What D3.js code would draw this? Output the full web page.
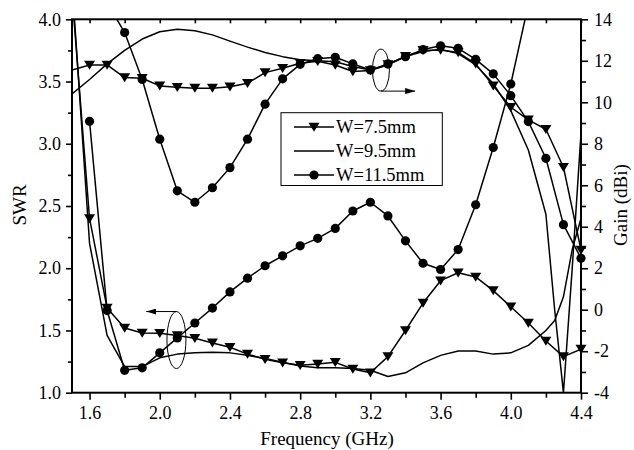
<!DOCTYPE html>
<html>
<head>
<meta charset="utf-8">
<script src="https://cdn.jsdelivr.net/npm/d3@7"></script>
<style>
  html, body { margin: 0; padding: 0; background: #fff; }
  svg { display: block; }
  text { font-family: "Liberation Serif", "Times New Roman", serif; fill: #000; }
</style>
</head>
<body>
<svg id="chart" width="634" height="450"></svg>
<script>
// Frequency grid (GHz) for the marked curves
const freq = [1.5, 1.6, 1.7, 1.8, 1.9, 2.0, 2.1, 2.2, 2.3, 2.4, 2.5, 2.6, 2.7, 2.8, 2.9,
              3.0, 3.1, 3.2, 3.3, 3.4, 3.5, 3.6, 3.7, 3.8, 3.9, 4.0, 4.1, 4.2, 4.3, 4.4];
// Frequency grid for the unmarked W=9.5mm curves
const plainFreq = [1.5, 1.6, 1.7, 1.8, 1.9, 2.0, 2.1, 2.2, 2.3, 2.4, 2.5, 2.6, 2.7, 2.8, 2.9,
                   3.0, 3.1, 3.2, 3.3, 3.4, 3.5, 3.6, 3.7, 3.8, 3.9, 4.0, 4.1, 4.2, 4.25, 4.3, 4.35, 4.4];

// SWR (left axis)
const swrW75 = [4.2, 2.40, 1.68, 1.52, 1.48, 1.477, 1.46, 1.437, 1.40, 1.365, 1.31, 1.268, 1.24, 1.22, 1.23,
                1.244, 1.19, 1.16, 1.29, 1.50, 1.72, 1.90, 1.964, 1.93, 1.82, 1.69, 1.56, 1.415, 1.29, 1.35];
const swrW95 = [4.3, 2.2, 1.46, 1.21, 1.21, 1.28, 1.31, 1.32, 1.325, 1.32, 1.30, 1.275, 1.245, 1.215, 1.20,
                1.20, 1.195, 1.18, 1.13, 1.16, 1.24, 1.30, 1.335, 1.335, 1.31, 1.32, 1.38, 1.50, 1.58, 1.77, 2.15, 2.4];
const swrW115 = [null, 3.18, 1.66, 1.18, 1.20, 1.32, 1.44, 1.56, 1.68, 1.81, 1.92, 2.02, 2.10, 2.18, 2.24,
                 2.32, 2.46, 2.53, 2.42, 2.22, 2.04, 1.99, 2.15, 2.51, 2.97, 3.48, 4.12, null, null, null];

// Gain in dBi (right axis)
const gainW75 = [11.56, 11.8, 11.8, 11.19, 11.16, 10.79, 10.72, 10.68, 10.68, 10.75, 10.92, 11.43, 11.64, 11.88, 11.98,
                 11.8, 11.48, 11.53, 11.82, 12.22, 12.5, 12.52, 12.4, 11.85, 10.79, 9.76, 9.15, 8.7, 6.87, 2.88];
const gainW95 = [10.4, 11.1, 11.85, 12.5, 13.05, 13.4, 13.52, 13.45, 13.25, 12.95, 12.66, 12.4, 12.2, 12.05, 12.0,
                 11.95, 11.72, 11.56, 11.8, 12.2, 12.45, 12.55, 12.35, 11.8, 10.9, 9.6, 7.7, 4.6, 0.0, -4.0, 2.0, 8.5];
const gainW115 = [null, null, 14.8, 13.36, 11.1, 8.22, 5.73, 5.18, 5.88, 6.85, 8.22, 9.91, 11.13, 11.83, 12.1,
                  12.17, 11.85, 11.56, 11.85, 12.2, 12.54, 12.72, 12.6, 12.07, 11.37, 10.32, 9.07, 7.3, 4.1, 2.48];

// Axis ticks
const freqTicks = [1.6, 2.0, 2.4, 2.8, 3.2, 3.6, 4.0, 4.4];
const freqMinor = [1.8, 2.2, 2.6, 3.0, 3.4, 3.8, 4.2];
const swrTicks = [1.0, 1.5, 2.0, 2.5, 3.0, 3.5, 4.0];
const swrMinor = [1.25, 1.75, 2.25, 2.75, 3.25, 3.75];
const gainTicks = [-4, -2, 0, 2, 4, 6, 8, 10, 12, 14];
const gainMinor = [-3, -1, 1, 3, 5, 7, 9, 11, 13];

const legendLabels = ["W=7.5mm", "W=9.5mm", "W=11.5mm"];
const xTitle = "Frequency (GHz)";
const yLeftTitle = "SWR";
const yRightTitle = "Gain (dBi)";

const svg = d3.select("#chart");
const P = { left: 72, right: 581, top: 19.3, bottom: 392.7 };

const x = d3.scaleLinear().domain([1.5, 4.4]).range([P.left, P.right]);
const ySwr = d3.scaleLinear().domain([1, 4]).range([P.bottom, P.top]);
const yGain = d3.scaleLinear().domain([-4, 14]).range([P.bottom, P.top]);

svg.append("defs").append("clipPath").attr("id", "plotClip")
  .append("rect")
  .attr("x", P.left).attr("y", P.top)
  .attr("width", P.right - P.left).attr("height", P.bottom - P.top);

// Marker shapes
const triPath = "M-5.5,-4.3L5.5,-4.3L0,4.7Z";
function drawMarker(g, kind, cx, cy) {
  if (kind === "tri") {
    g.append("path").attr("d", triPath).attr("transform", `translate(${cx},${cy})`).attr("fill", "#000");
  } else if (kind === "circle") {
    g.append("circle").attr("cx", cx).attr("cy", cy).attr("r", 4.6).attr("fill", "#000");
  }
}

const series = [
  { f: freq, v: swrW75, y: ySwr, marker: "tri" },
  { f: plainFreq, v: swrW95, y: ySwr, marker: null },
  { f: freq, v: swrW115, y: ySwr, marker: "circle" },
  { f: freq, v: gainW75, y: yGain, marker: "tri" },
  { f: plainFreq, v: gainW95, y: yGain, marker: null },
  { f: freq, v: gainW115, y: yGain, marker: "circle" }
];

const linesG = svg.append("g").attr("clip-path", "url(#plotClip)");
const marksG = svg.append("g");

series.forEach(s => {
  const pts = s.f.map((f, i) => ({ f, v: s.v[i] }));
  const line = d3.line()
    .defined(d => d.v !== null)
    .x(d => x(d.f))
    .y(d => s.y(d.v));
  linesG.append("path")
    .datum(pts)
    .attr("d", line)
    .attr("fill", "none")
    .attr("stroke", "#000")
    .attr("stroke-width", 1.5)
    .attr("stroke-linejoin", "round");
  if (s.marker) {
    const [lo, hi] = s.y.domain();
    pts.filter(d => d.v !== null && d.f >= 1.55 && d.v >= lo && d.v <= hi)
      .forEach(d => drawMarker(marksG, s.marker, x(d.f), s.y(d.v)));
  }
});

// Axes
const tickFont = 18;
function styleAxis(g) {
  g.selectAll(".tick line").attr("stroke", "#000").attr("stroke-width", 1.6);
  g.selectAll(".tick text")
    .style("font-family", '"Liberation Serif", "Times New Roman", serif')
    .style("font-size", tickFont + "px").attr("fill", "#000");
  g.select(".domain").remove();
}

svg.append("g").attr("transform", `translate(0,${P.bottom})`)
  .call(d3.axisBottom(x).tickValues(freqTicks).tickSize(7).tickPadding(7).tickFormat(d3.format(".1f")))
  .call(styleAxis);
svg.append("g").attr("transform", `translate(0,${P.bottom})`)
  .call(d3.axisBottom(x).tickValues(freqMinor).tickSize(5).tickFormat(""))
  .call(styleAxis);
svg.append("g").attr("transform", `translate(0,${P.top})`)
  .call(d3.axisBottom(x).tickValues(freqTicks.concat(freqMinor)).tickSize(4).tickFormat(""))
  .call(styleAxis);

svg.append("g").attr("transform", `translate(${P.left},0)`)
  .call(d3.axisLeft(ySwr).tickValues(swrTicks).tickSize(6).tickPadding(5).tickFormat(d3.format(".1f")))
  .call(styleAxis);
svg.append("g").attr("transform", `translate(${P.left},0)`)
  .call(d3.axisLeft(ySwr).tickValues(swrMinor).tickSize(4).tickFormat(""))
  .call(styleAxis);

const gainFmt = d => (d < 0 ? "-" + Math.abs(d) : String(d));
svg.append("g").attr("transform", `translate(${P.right},0)`)
  .call(d3.axisRight(yGain).tickValues(gainTicks).tickSize(7).tickPadding(6).tickFormat(gainFmt))
  .call(styleAxis);
svg.append("g").attr("transform", `translate(${P.right},0)`)
  .call(d3.axisRight(yGain).tickValues(gainMinor).tickSize(5).tickFormat(""))
  .call(styleAxis);

// Frame
svg.append("rect")
  .attr("x", P.left).attr("y", P.top)
  .attr("width", P.right - P.left).attr("height", P.bottom - P.top)
  .attr("fill", "none").attr("stroke", "#000").attr("stroke-width", 2);

// Axis titles
svg.append("text")
  .attr("x", 327).attr("y", 445)
  .attr("text-anchor", "middle").style("font-size", "19px")
  .text(xTitle);
svg.append("text")
  .attr("transform", "translate(26,205) rotate(-90)")
  .attr("text-anchor", "middle").style("font-size", "19px")
  .text(yLeftTitle);
svg.append("text")
  .attr("transform", "translate(627,205) rotate(-90)")
  .attr("text-anchor", "middle").style("font-size", "19px")
  .text(yRightTitle);

// Group annotations: ellipse around each family with an arrow toward its axis
const arrowG = svg.append("g");
arrowG.append("defs").append("marker")
  .attr("id", "arrowHead").attr("viewBox", "0 0 10 6")
  .attr("refX", 10).attr("refY", 3)
  .attr("markerWidth", 10).attr("markerHeight", 6)
  .attr("markerUnits", "userSpaceOnUse")
  .attr("orient", "auto")
  .append("path").attr("d", "M0,0L10,3L0,6Z").attr("fill", "#000");

const gainNote = { f: 3.26, v: 11.55, rx: 8.5, ry: 21, tipF: 3.455 };
const swrNote = { f: 2.095, v: 1.423, rx: 9.5, ry: 28.5, tipF: 1.923 };

const gx = x(gainNote.f), gy = yGain(gainNote.v);
arrowG.append("ellipse").attr("cx", gx).attr("cy", gy)
  .attr("rx", gainNote.rx).attr("ry", gainNote.ry)
  .attr("fill", "none").attr("stroke", "#000").attr("stroke-width", 1);
arrowG.append("line")
  .attr("x1", gx).attr("y1", gy + gainNote.ry)
  .attr("x2", x(gainNote.tipF)).attr("y2", gy + gainNote.ry)
  .attr("stroke", "#000").attr("stroke-width", 1)
  .attr("marker-end", "url(#arrowHead)");

const sx = x(swrNote.f), sy = ySwr(swrNote.v);
arrowG.append("ellipse").attr("cx", sx).attr("cy", sy)
  .attr("rx", swrNote.rx).attr("ry", swrNote.ry)
  .attr("fill", "none").attr("stroke", "#000").attr("stroke-width", 1);
arrowG.append("line")
  .attr("x1", sx).attr("y1", sy - swrNote.ry)
  .attr("x2", x(swrNote.tipF)).attr("y2", sy - swrNote.ry)
  .attr("stroke", "#000").attr("stroke-width", 1)
  .attr("marker-end", "url(#arrowHead)");

// Legend
const lg = svg.append("g");
lg.append("rect")
  .attr("x", 281).attr("y", 112.7).attr("width", 161.3).attr("height", 72.8)
  .attr("fill", "#fff").attr("stroke", "#000").attr("stroke-width", 1);
const legendMarkers = ["tri", null, "circle"];
const rowY = [127, 151, 175];
legendLabels.forEach((lab, i) => {
  lg.append("line")
    .attr("x1", 294).attr("x2", 334).attr("y1", rowY[i]).attr("y2", rowY[i])
    .attr("stroke", "#000").attr("stroke-width", 1.5);
  if (legendMarkers[i]) drawMarker(lg, legendMarkers[i], 314, rowY[i]);
  lg.append("text")
    .attr("x", 336).attr("y", rowY[i] + 6.3)
    .style("font-size", "18.5px")
    .text(lab);
});
</script>
</body>
</html>
